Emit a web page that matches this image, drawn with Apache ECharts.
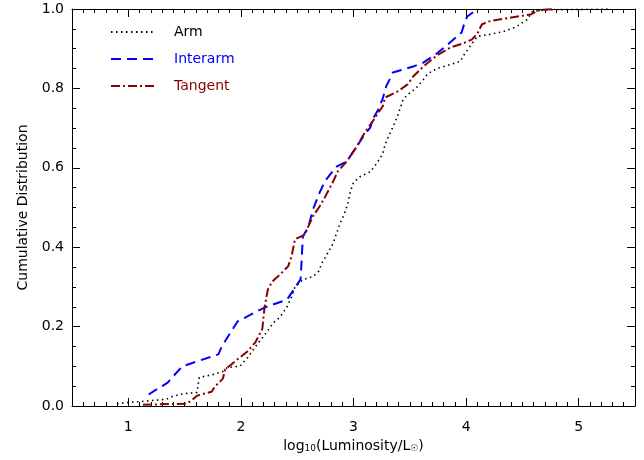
<!DOCTYPE html>
<html>
<head>
<meta charset="utf-8">
<script src="https://cdn.jsdelivr.net/npm/echarts@6/dist/echarts.min.js"></script>
<style>html,body{margin:0;padding:0;background:#fff}#c{width:644px;height:460px}</style>
</head>
<body>
<div id="c"></div>
<script>
var seriesNames = ['Arm', 'Interarm', 'Tangent'];
var xTickLabels = [1, 2, 3, 4, 5];
var yTickValues = [0, 0.2, 0.4, 0.6, 0.8, 1.0];

var armX = [0.90,1.00,1.10,1.34,1.39,1.49,1.61,1.63,1.64,1.75,1.84,1.88,1.99,2.06,2.13,2.20,2.29,2.35,2.41,2.45,2.48,2.55,2.64,2.69,2.72,2.77,2.82,2.85,2.88,2.92,2.95,2.97,3.00,3.06,3.15,3.21,3.26,3.28,3.31,3.35,3.39,3.41,3.44,3.48,3.56,3.62,3.66,3.74,3.86,3.95,3.97,4.04,4.10,4.21,4.33,4.45,4.54,4.59,4.72,5.28];
var armY = [0.006,0.009,0.011,0.017,0.024,0.031,0.034,0.072,0.074,0.079,0.087,0.097,0.100,0.122,0.150,0.175,0.210,0.225,0.250,0.275,0.300,0.318,0.326,0.339,0.360,0.385,0.410,0.435,0.460,0.485,0.510,0.538,0.563,0.578,0.590,0.613,0.635,0.658,0.678,0.703,0.729,0.746,0.772,0.784,0.802,0.822,0.837,0.850,0.860,0.868,0.880,0.908,0.931,0.936,0.943,0.956,0.973,0.994,0.998,1.000];

var interX = [1.18,1.35,1.39,1.48,1.80,1.83,1.97,2.21,2.41,2.53,2.54,2.55,2.60,2.64,2.70,2.75,2.85,2.94,3.03,3.10,3.15,3.17,3.22,3.26,3.29,3.32,3.35,3.41,3.53,3.62,3.74,3.86,3.96,3.99,4.01,4.10];
var interY = [0.029,0.059,0.072,0.100,0.130,0.150,0.213,0.248,0.268,0.319,0.369,0.427,0.452,0.495,0.538,0.568,0.603,0.616,0.654,0.684,0.702,0.722,0.747,0.775,0.805,0.822,0.840,0.845,0.855,0.865,0.888,0.916,0.941,0.969,0.981,1.000];

var tanX = [1.13,1.52,1.57,1.61,1.74,1.77,1.84,1.86,1.89,1.99,2.06,2.13,2.19,2.21,2.24,2.28,2.35,2.42,2.45,2.48,2.57,2.60,2.64,2.70,2.75,2.82,2.86,2.94,3.03,3.10,3.17,3.22,3.26,3.28,3.39,3.48,3.53,3.62,3.74,3.86,3.97,4.05,4.10,4.14,4.19,4.28,4.39,4.57,4.66,4.79];
var tanY = [0.003,0.006,0.016,0.026,0.036,0.049,0.069,0.092,0.099,0.122,0.138,0.161,0.194,0.249,0.294,0.314,0.332,0.352,0.377,0.420,0.432,0.453,0.478,0.503,0.528,0.566,0.591,0.616,0.654,0.689,0.717,0.739,0.755,0.777,0.792,0.810,0.830,0.855,0.883,0.903,0.913,0.923,0.938,0.961,0.968,0.973,0.978,0.986,0.998,1.000];

function zip(xs, ys) { return xs.map(function (x, i) { return [x, ys[i]]; }); }

var FONT = 'DejaVu Sans';
var AX = '#000';
var minorX = { min: 0.5, max: 5.5, interval: 0.1 };

function xAx(pos, major, labels) {
  var a = {
    type: 'value', position: pos, min: minorX.min, max: minorX.max, interval: minorX.interval,
    axisLine: { show: !major, onZero: false, lineStyle: { color: AX, width: 1 } },
    axisTick: { show: true, inside: true, length: major ? 8 : 4, lineStyle: { color: AX, width: 1 } },
    axisLabel: { show: false },
    splitLine: { show: false }
  };
  if (major) a.axisTick.customValues = xTickLabels;
  if (labels) {
    a.axisLabel = { show: true, customValues: xTickLabels, color: '#000', fontFamily: FONT, fontSize: 14, margin: 14 };
    a.name = '{n|log}{s|10}{n|(Luminosity/L}{s|☉}{n|)}';
    a.nameLocation = 'middle';
    a.nameGap = 22;
    a.nameTextStyle = { rich: {
      n: { fontFamily: FONT, fontSize: 14, color: '#000' },
      s: { fontFamily: FONT, fontSize: 9, color: '#000', verticalAlign: 'bottom', padding: [6, 0, 0, 0] }
    } };
  }
  return a;
}

function yAx(pos, labels) {
  var a = {
    type: 'value', position: pos, min: 0, max: 1, interval: 0.2,
    axisLine: { show: true, onZero: false, lineStyle: { color: AX, width: 1 } },
    axisTick: { show: true, inside: true, length: 8, lineStyle: { color: AX, width: 1 } },
    minorTick: { show: true, splitNumber: 4, length: 4, lineStyle: { color: AX, width: 1 } },
    axisLabel: { show: labels, color: '#000', fontFamily: FONT, fontSize: 14, margin: 8,
      formatter: function (v) { return v.toFixed(1); } },
    splitLine: { show: false }, minorSplitLine: { show: false }
  };
  if (labels) {
    a.name = 'Cumulative Distribution';
    a.nameLocation = 'middle';
    a.nameGap = 42;
    a.nameTextStyle = { fontFamily: FONT, fontSize: 14, color: '#000' };
  }
  return a;
}

var chart = echarts.init(document.getElementById('c'), null, { renderer: 'canvas' });
chart.setOption({
  animation: false,
  backgroundColor: '#fff',
  grid: { left: 72, right: 9, top: 9, bottom: 54, containLabel: false },
  xAxis: [xAx('bottom', false, true), xAx('bottom', true, false), xAx('top', false, false), xAx('top', true, false)],
  yAxis: [yAx('left', true), yAx('right', false)],
  legend: {
    orient: 'vertical', left: 105, top: 20, itemWidth: 45, itemHeight: 14, itemGap: 13,
    itemStyle: { color: 'transparent', borderColor: 'transparent', borderWidth: 0 },
    textStyle: { fontFamily: FONT, fontSize: 14, padding: [0, 0, 0, 13] },
    data: [
      { name: seriesNames[0], textStyle: { color: '#000' } },
      { name: seriesNames[1], textStyle: { color: '#0000ff' } },
      { name: seriesNames[2], textStyle: { color: '#8b0000' } }
    ]
  },
  series: [
    { name: seriesNames[0], type: 'line', xAxisIndex: 0, yAxisIndex: 0, showSymbol: false, symbol: 'circle', symbolSize: 0,
      data: zip(armX, armY), color: '#000',
      lineStyle: { color: '#000', width: 1.6, type: [1.5, 3.5] } },
    { name: seriesNames[1], type: 'line', xAxisIndex: 0, yAxisIndex: 0, showSymbol: false, symbol: 'circle', symbolSize: 0,
      data: zip(interX, interY), color: '#0000ff',
      lineStyle: { color: '#0000ff', width: 2, type: [10, 6] } },
    { name: seriesNames[2], type: 'line', xAxisIndex: 0, yAxisIndex: 0, showSymbol: false, symbol: 'circle', symbolSize: 0,
      data: zip(tanX, tanY), color: '#8b0000',
      lineStyle: { color: '#8b0000', width: 2, type: [9, 3, 2, 3] } }
  ]
});
</script>
</body>
</html>
